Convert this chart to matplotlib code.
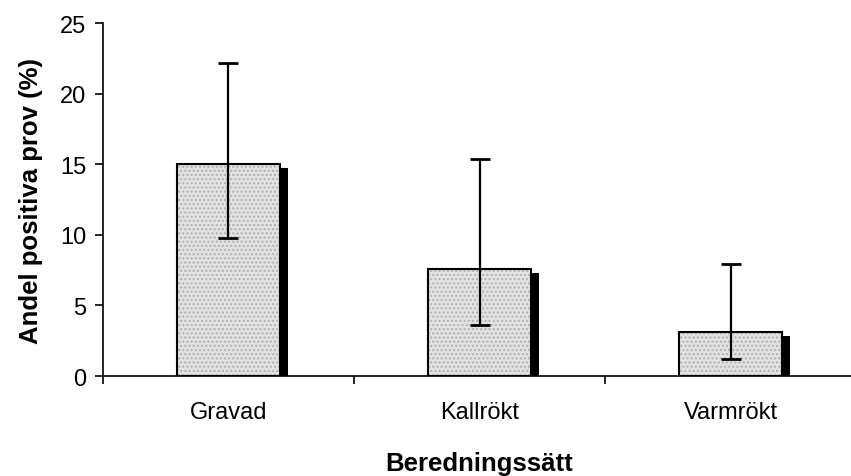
import matplotlib.pyplot as plt
import matplotlib.transforms as mtransforms

# Data
categories = ['Gravad', 'Kallrökt', 'Varmrökt']
values = [15.0, 7.6, 3.1]
err_low = [9.8, 3.6, 1.2]
err_high = [22.2, 15.4, 7.9]

plt.rcParams['font.family'] = ['Liberation Sans', 'DejaVu Sans']

fig = plt.figure(figsize=(8.51, 4.77), dpi=100)
ax = fig.add_axes([0.121, 0.2096, 0.885, 0.740])

x = list(range(len(categories)))
width = 0.41

# shadow bars, shifted right and down
shadow = mtransforms.offset_copy(ax.transData, fig=fig, x=8, y=-4, units='dots')
ax.bar(x, values, width, color='black', transform=shadow, zorder=1)

# dotted fill, then black outline on top
ax.bar(x, values, width, color='#e2e2e2', edgecolor='#b0b0b0', linewidth=0,
       hatch='....', zorder=2)
ax.bar(x, values, width, fill=False, edgecolor='black', linewidth=1.5, zorder=2.5)

lower = [v - l for v, l in zip(values, err_low)]
upper = [h - v for v, h in zip(values, err_high)]
ax.errorbar(x, values, yerr=[lower, upper], fmt='none', ecolor='black',
            elinewidth=1.6, capsize=7, capthick=2, zorder=3)

ax.set_xlim(-0.5, 2.5)
ax.set_ylim(0, 25)
ax.set_yticks([0, 5, 10, 15, 20, 25])
ax.set_xticks(x)
ax.set_xticklabels(categories)
ax.set_xticks([-0.5, 0.5, 1.5], minor=True)
ax.tick_params(axis='x', which='major', length=0, labelsize=17, pad=18)
ax.tick_params(axis='x', which='minor', length=6, width=1.2, direction='out')
ax.tick_params(axis='y', length=6, width=1.2, direction='out', labelsize=17, pad=6)

for s in ['top', 'right']:
    ax.spines[s].set_visible(False)
ax.spines['left'].set_linewidth(1.2)
ax.spines['bottom'].set_linewidth(1.2)

ax.set_ylabel('Andel positiva prov (%)', fontsize=18.5, fontweight='bold', labelpad=12)
ax.set_xlabel('Beredningssätt', fontsize=18.5, fontweight='bold', labelpad=20)

fig.savefig('out.png', dpi=100)
